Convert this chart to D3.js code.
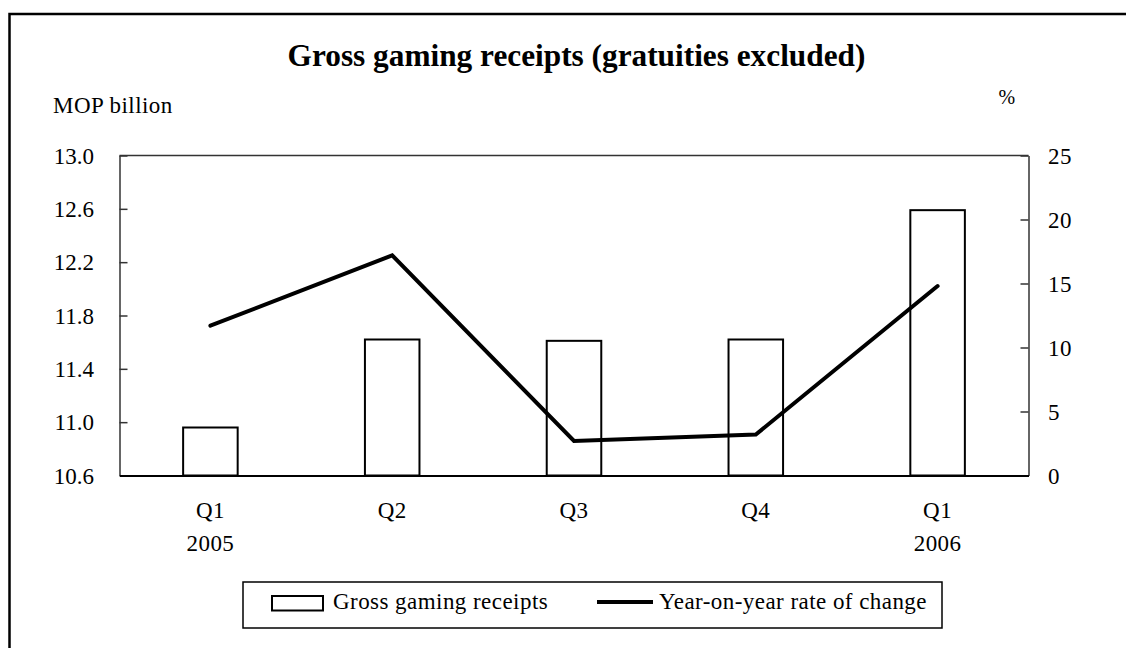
<!DOCTYPE html>
<html>
<head>
<meta charset="utf-8">
<script src="https://cdn.jsdelivr.net/npm/d3@7/dist/d3.min.js"></script>
<style>
  html, body { margin: 0; padding: 0; background: #fff; }
  svg { display: block; }
  text { fill: #000; }
</style>
</head>
<body>
<svg id="chart" width="1126" height="648"></svg>
<script>
// Quarterly gross gaming receipts and their year-on-year change
const quarters = ["Q1", "Q2", "Q3", "Q4", "Q1"];
const years = ["2005", "", "", "", "2006"];
const receipts = [10.96, 11.62, 11.61, 11.62, 12.59];   // MOP billion
const yoyChange = [11.7, 17.2, 2.7, 3.2, 14.8];         // %
const leftTicks = [10.6, 11.0, 11.4, 11.8, 12.2, 12.6, 13.0];
const rightTicks = [0, 5, 10, 15, 20, 25];

const FONT = '"Liberation Serif", "Times New Roman", Times, serif';
const LABEL_SIZE = "23px";
const LABEL_SPACING = "0.45px";

const svg = d3.select("#chart");
const plot = { left: 119.5, right: 1028.5, top: 155.5, bottom: 475.5 };

// apply the shared label style to a selection of text elements
function labelStyle(sel) {
  return sel
    .attr("font-family", FONT)
    .style("font-family", FONT)
    .style("font-size", LABEL_SIZE)
    .style("letter-spacing", LABEL_SPACING)
    .attr("fill", "#000");
}

// outer frame (runs off the right and bottom edges)
svg.append("rect")
  .attr("x", 9.5).attr("y", 14).attr("width", 1140).attr("height", 660)
  .attr("fill", "none").attr("stroke", "#000").attr("stroke-width", 2.5);

const x = d3.scaleBand()
  .domain(d3.range(quarters.length))
  .range([plot.left, plot.right])
  .paddingInner(0.7)
  .paddingOuter(0.35);

const yL = d3.scaleLinear().domain([10.6, 13.0]).range([plot.bottom, plot.top]);
const yR = d3.scaleLinear().domain([0, 25]).range([plot.bottom, plot.top]);

// title and unit labels
svg.append("text")
  .attr("x", 576.5).attr("y", 66).attr("text-anchor", "middle")
  .style("font-family", FONT)
  .style("font-size", "31.3px").style("font-weight", "bold")
  .text("Gross gaming receipts (gratuities excluded)");
svg.append("text")
  .attr("x", 53).attr("y", 112.5)
  .call(labelStyle)
  .text("MOP billion");
svg.append("text")
  .attr("x", 1007).attr("y", 104).attr("text-anchor", "middle")
  .call(labelStyle)
  .style("font-size", "20px")
  .text("%");

// bars
svg.append("g").selectAll("rect")
  .data(receipts)
  .join("rect")
  .attr("x", (d, i) => x(i))
  .attr("y", d => yL(d))
  .attr("width", x.bandwidth())
  .attr("height", d => yL(10.6) - yL(d))
  .attr("fill", "#fff")
  .attr("stroke", "#000")
  .attr("stroke-width", 2);

// plot frame top line
svg.append("line")
  .attr("x1", plot.left).attr("x2", plot.right)
  .attr("y1", plot.top).attr("y2", plot.top)
  .attr("stroke", "#333").attr("stroke-width", 1.5);

// left axis, ticks pointing inward
const leftAxis = d3.axisRight(yL)
  .tickValues(leftTicks)
  .tickSize(8)
  .tickSizeOuter(0)
  .tickFormat(d3.format(".1f"));
const gL = svg.append("g").attr("transform", `translate(${plot.left},0)`).call(leftAxis);
gL.attr("font-family", FONT);
gL.select(".domain").attr("stroke", "#333").attr("stroke-width", 1.5);
gL.selectAll(".tick line").attr("stroke", "#333").attr("stroke-width", 1.5);
gL.selectAll(".tick text")
  .attr("x", 94 - plot.left).attr("dy", "0.34em")
  .attr("text-anchor", "end")
  .call(labelStyle)
  .style("letter-spacing", null);

// right axis, ticks pointing inward
const rightAxis = d3.axisLeft(yR)
  .tickValues(rightTicks)
  .tickSize(8)
  .tickSizeOuter(0);
const gR = svg.append("g").attr("transform", `translate(${plot.right},0)`).call(rightAxis);
gR.attr("font-family", FONT);
gR.select(".domain").attr("stroke", "#333").attr("stroke-width", 1.5);
gR.selectAll(".tick line").attr("stroke", "#333").attr("stroke-width", 1.5);
gR.selectAll(".tick text")
  .attr("x", 1048 - plot.right).attr("dy", "0.34em")
  .attr("text-anchor", "start")
  .call(labelStyle);

// bottom axis line and category labels
const xCenter = i => x(i) + x.bandwidth() / 2;
const xAxis = d3.axisBottom(x).tickSize(0).tickFormat(i => quarters[i]);
const gX = svg.append("g").attr("transform", `translate(0,${plot.bottom})`).call(xAxis);
gX.attr("font-family", FONT);
gX.select(".domain").attr("stroke", "#000").attr("stroke-width", 2);
gX.selectAll(".tick text")
  .attr("y", 518 - plot.bottom).attr("dy", null)
  .call(labelStyle);
gX.selectAll(".tick").append("text")
  .attr("y", 551 - plot.bottom)
  .attr("text-anchor", "middle")
  .call(labelStyle)
  .text(i => years[i]);

// year-on-year line
const line = d3.line()
  .x((d, i) => xCenter(i))
  .y(d => yR(d));
svg.append("path")
  .datum(yoyChange)
  .attr("d", line)
  .attr("fill", "none")
  .attr("stroke", "#000")
  .attr("stroke-width", 4)
  .attr("stroke-linecap", "round")
  .attr("stroke-linejoin", "miter");

// legend
const legend = svg.append("g");
legend.append("rect")
  .attr("x", 243).attr("y", 582).attr("width", 699).attr("height", 46)
  .attr("fill", "#fff").attr("stroke", "#000").attr("stroke-width", 1.5);
legend.append("rect")
  .attr("x", 272).attr("y", 596).attr("width", 51).attr("height", 14.5)
  .attr("fill", "#fff").attr("stroke", "#000").attr("stroke-width", 2);
legend.append("text")
  .attr("x", 333).attr("y", 609)
  .call(labelStyle)
  .text("Gross gaming receipts");
legend.append("line")
  .attr("x1", 597).attr("x2", 653).attr("y1", 602).attr("y2", 602)
  .attr("stroke", "#000").attr("stroke-width", 4);
legend.append("text")
  .attr("x", 659).attr("y", 609)
  .call(labelStyle)
  .text("Year-on-year rate of change");
</script>
</body>
</html>
